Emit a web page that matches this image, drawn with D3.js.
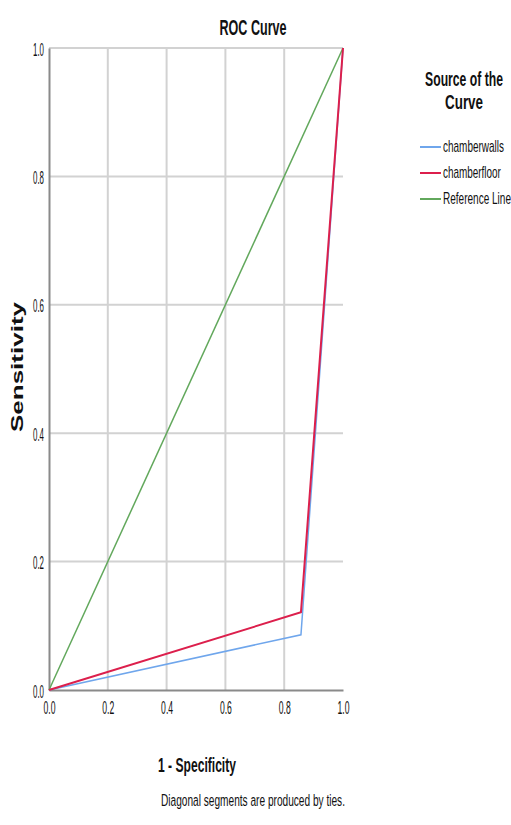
<!DOCTYPE html>
<html>
<head>
<meta charset="utf-8">
<script src="https://cdn.jsdelivr.net/npm/d3@7"></script>
<style>
  body { margin: 0; background: #fff; }
  svg { display: block; }
  text { font-family: "Liberation Sans Narrow", "Liberation Sans", Arial, sans-serif; fill: #111; }
</style>
</head>
<body>
<div id="chart"></div>
<script>
// ROC points (1 - specificity, sensitivity)
const fpr = [0, 0.857, 1];
const wallsTpr = [0, 0.086, 1];
const floorTpr = [0, 0.121, 1];
const refX = [0, 1];
const refY = [0, 1];
const ticks = [0, 0.2, 0.4, 0.6, 0.8, 1.0];
const seriesNames = ["chamberwalls", "chamberfloor", "Reference Line"];
const seriesColors = ["#6fa6ec", "#dc1f4c", "#62a85c"];

const W = 511, H = 825;
const margin = { top: 48, left: 49, right: 168, bottom: 135 };
const width = W - margin.left - margin.right;   // 294
const height = H - margin.top - margin.bottom;  // 642

const svg = d3.select("#chart").append("svg")
  .attr("width", W)
  .attr("height", H);

// squeeze a text horizontally to a given width (SPSS uses a condensed face)
function squeeze(sel, x, y, w) {
  sel.each(function() {
    const k = w / this.getComputedTextLength();
    d3.select(this).attr("transform", `translate(${x},${y}) scale(${k},1)`);
  });
}

const g = svg.append("g")
  .attr("transform", `translate(${margin.left},${margin.top})`);

const x = d3.scaleLinear().domain([0, 1]).range([0, width]);
const y = d3.scaleLinear().domain([0, 1]).range([height, 0]);

// gridlines
g.append("g")
  .selectAll("line")
  .data(ticks.slice(1, -1))
  .enter().append("line")
  .attr("x1", d => x(d)).attr("x2", d => x(d))
  .attr("y1", 0).attr("y2", height)
  .attr("stroke", "#d2d2d2").attr("stroke-width", 2);

g.append("g")
  .selectAll("line")
  .data(ticks.slice(1))
  .enter().append("line")
  .attr("x1", 0).attr("x2", width)
  .attr("y1", d => y(d)).attr("y2", d => y(d))
  .attr("stroke", "#d2d2d2").attr("stroke-width", 2);

// axes
const xAxis = g.append("g")
  .attr("transform", `translate(0,${height})`)
  .call(d3.axisBottom(x).tickValues(ticks).tickFormat(d3.format(".1f")).tickSize(0));
xAxis.select(".domain").attr("stroke", "#8a8a8a").attr("stroke-width", 2);
xAxis.selectAll("text")
  .attr("font-size", 18)
  .attr("y", 0).attr("dy", 0)
  .attr("fill", "#222")
  .call(squeeze, 0, 24, 12);

const yAxis = g.append("g")
  .call(d3.axisLeft(y).tickValues(ticks).tickFormat(d3.format(".1f")).tickSize(0));
yAxis.select(".domain").attr("stroke", "#8a8a8a").attr("stroke-width", 2);
yAxis.selectAll("text")
  .attr("font-size", 18)
  .attr("x", 0).attr("dy", 0)
  .attr("fill", "#222")
  .call(squeeze, -5, 7, 11);

// lines
const line = d3.line().x(d => x(d[0])).y(d => y(d[1]));
const series = [
  d3.zip(fpr, wallsTpr),
  d3.zip(fpr, floorTpr),
  d3.zip(refX, refY)
];
g.append("path").datum(series[2])
  .attr("fill", "none").attr("stroke", seriesColors[2]).attr("stroke-width", 1.5).attr("d", line);
g.append("path").datum(series[0])
  .attr("fill", "none").attr("stroke", seriesColors[0]).attr("stroke-width", 1.5).attr("d", line);
g.append("path").datum(series[1])
  .attr("fill", "none").attr("stroke", seriesColors[1]).attr("stroke-width", 2).attr("d", line);

// titles
svg.append("text")
  .attr("text-anchor", "middle")
  .attr("font-size", 22).attr("font-weight", "bold")
  .text("ROC Curve")
  .call(squeeze, 253, 35, 67);

svg.append("text")
  .attr("text-anchor", "middle")
  .attr("font-size", 21).attr("font-weight", "bold")
  .text("1 - Specificity")
  .call(squeeze, 197, 772, 78);

svg.append("text")
  .attr("transform", "translate(23,367) rotate(-90)")
  .attr("text-anchor", "middle")
  .style("font-family", "'Liberation Sans', Arial, sans-serif")
  .attr("font-size", 16).attr("font-weight", "bold")
  .attr("textLength", 130).attr("lengthAdjust", "spacingAndGlyphs")
  .text("Sensitivity");

svg.append("text")
  .attr("text-anchor", "middle")
  .attr("font-size", 17)
  .text("Diagonal segments are produced by ties.")
  .call(squeeze, 253, 806, 184);

// legend
const legend = svg.append("g");
legend.append("text")
  .attr("text-anchor", "middle")
  .attr("font-size", 20).attr("font-weight", "bold")
  .text("Source of the")
  .call(squeeze, 464, 86, 78);
legend.append("text")
  .attr("text-anchor", "middle")
  .attr("font-size", 20).attr("font-weight", "bold")
  .text("Curve")
  .call(squeeze, 464, 109, 38);

const legendY = d3.scalePoint().domain(seriesNames).range([147, 199]);
const labelWidths = [61, 58, 68];
const items = legend.selectAll("g.item")
  .data(seriesNames)
  .enter().append("g")
  .attr("transform", d => `translate(420,${legendY(d)})`);
items.append("line")
  .attr("x1", 0).attr("x2", 21)
  .attr("stroke", (d, i) => seriesColors[i])
  .attr("stroke-width", 2);
items.append("text")
  .attr("font-size", 16)
  .attr("fill", "#222")
  .text(d => d)
  .each(function(d, i) { d3.select(this).call(squeeze, 23, 5, labelWidths[i]); });
</script>
</body>
</html>
